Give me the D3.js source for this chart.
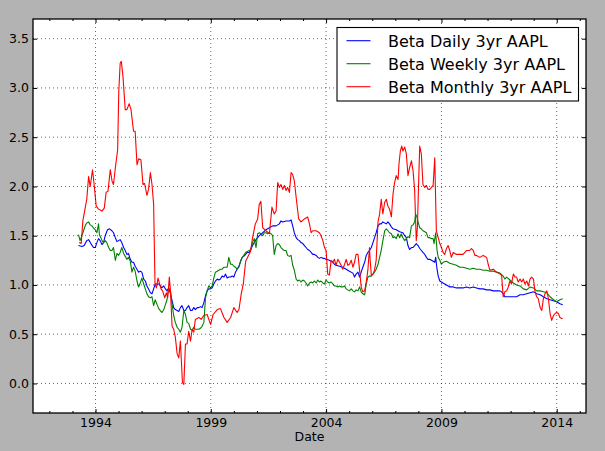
<!DOCTYPE html>
<html>
<head>
<meta charset="utf-8">
<title>Beta 3yr AAPL</title>
<script src="https://cdn.jsdelivr.net/npm/d3@7"></script>
<style>
  html, body { margin: 0; padding: 0; background: #b3b3b3; }
  svg { display: block; font-family: "DejaVu Sans", sans-serif; }
</style>
</head>
<body>
<svg id="chart" width="605" height="451"></svg>
<script>
////////////////////////////////////////////////////////////////////////
// Data (decimal year, beta)
////////////////////////////////////////////////////////////////////////
var dailyYears = [
  1993.26,1993.41,1993.51,1993.62,1993.70,1993.80,1993.91,1993.99,1994.06,1994.13,
  1994.20,1994.28,1994.35,1994.42,1994.52,1994.61,1994.71,1994.78,1994.86,1994.93,
  1995.00,1995.07,1995.14,1995.22,1995.29,1995.36,1995.43,1995.51,1995.58,1995.65,
  1995.72,1995.80,1995.87,1995.94,1996.01,1996.09,1996.16,1996.23,1996.30,1996.38,
  1996.45,1996.52,1996.59,1996.67,1996.74,1996.81,1996.88,1996.96,1997.03,1997.10,
  1997.17,1997.25,1997.32,1997.39,1997.46,1997.54,1997.61,1997.68,1997.75,1997.83,
  1997.90,1997.97,1998.04,1998.12,1998.19,1998.26,1998.33,1998.41,1998.48,1998.55,
  1998.62,1998.70,1998.77,1998.84,1998.91,1998.99,1999.06,1999.13,1999.20,1999.28,
  1999.35,1999.42,1999.49,1999.57,1999.64,1999.71,1999.78,1999.86,1999.93,2000.00,
  2000.07,2000.14,2000.22,2000.29,2000.36,2000.43,2000.51,2000.58,
  2000.67,2000.81,2000.96,2001.10,2001.25,2001.39,2001.54,2001.68,2001.83,2001.97,
  2002.04,2002.12,2002.26,2002.41,2002.48,2002.55,2002.62,2002.70,2002.77,2002.84,
  2002.91,2002.99,2003.06,2003.13,2003.20,2003.28,2003.35,2003.42,2003.49,2003.57,
  2003.64,2003.71,2003.78,2003.86,2003.93,2004.00,2004.14,2004.29,2004.36,2004.43,
  2004.58,2004.72,2004.87,2005.01,2005.16,2005.23,2005.30,2005.38,2005.45,2005.52,
  2005.59,2005.67,2005.74,2005.81,2005.88,2005.96,2006.03,2006.10,2006.17,2006.25,
  2006.32,2006.39,2006.46,2006.61,2006.68,2006.75,2006.83,2006.90,2007.04,2007.19,
  2007.33,2007.41,2007.48,2007.55,2007.62,2007.70,2007.77,2007.84,2007.91,2007.99,
  2008.06,2008.13,2008.20,2008.28,2008.35,2008.42,2008.49,2008.57,2008.64,2008.71,
  2008.75,2008.81,2008.86,2008.93,2009.00,2009.07,2009.22,2009.36,2009.51,2009.65,
  2009.80,2009.94,2010.09,2010.23,2010.38,2010.52,2010.67,2010.81,2010.96,2011.10,
  2011.25,2011.39,2011.54,2011.61,2011.68,2011.75,2011.83,2011.97,2012.12,2012.26,
  2012.41,2012.55,2012.70,2012.84,2012.99,2013.13,2013.28,2013.42,2013.57,2013.71,
  2013.86,2014.00,2014.14,2014.26];
var dailyBeta = [
  1.40,1.39,1.40,1.45,1.46,1.42,1.38,1.38,1.43,1.47,
  1.45,1.41,1.43,1.50,1.56,1.57,1.55,1.53,1.48,1.44,
  1.45,1.46,1.43,1.38,1.35,1.31,1.32,1.26,1.23,1.23,
  1.19,1.16,1.13,1.14,1.13,1.06,1.04,0.99,0.96,0.92,
  0.91,0.96,1.01,1.01,1.01,0.99,0.97,0.99,0.96,0.94,
  0.97,0.91,0.84,0.77,0.75,0.74,0.73,0.77,0.79,0.74,
  0.74,0.77,0.79,0.74,0.74,0.77,0.75,0.77,0.77,0.78,
  0.77,0.82,0.89,0.94,0.96,0.96,0.97,1.01,1.04,1.06,
  1.05,1.06,1.09,1.08,1.11,1.07,1.08,1.08,1.09,1.08,
  1.13,1.16,1.19,1.24,1.28,1.29,1.31,1.33,
  1.33,1.40,1.46,1.50,1.53,1.56,1.58,1.60,1.60,1.62,
  1.65,1.64,1.65,1.65,1.66,1.60,1.53,1.48,1.46,1.45,
  1.43,1.42,1.40,1.38,1.36,1.35,1.33,1.31,1.31,1.30,
  1.28,1.27,1.28,1.27,1.27,1.26,1.25,1.23,1.21,1.20,
  1.19,1.18,1.16,1.14,1.12,1.08,1.11,1.13,1.08,1.13,
  1.18,1.23,1.30,1.33,1.35,1.38,1.43,1.48,1.53,1.60,
  1.62,1.62,1.64,1.62,1.64,1.62,1.59,1.57,1.56,1.54,
  1.53,1.50,1.48,1.40,1.36,1.38,1.38,1.40,1.42,1.40,
  1.37,1.35,1.33,1.31,1.28,1.26,1.26,1.25,1.24,1.23,
  1.28,1.16,1.09,1.04,1.03,1.02,1.00,0.98,0.98,0.97,
  0.97,0.97,0.98,0.97,0.98,0.97,0.96,0.96,0.95,0.95,
  0.94,0.94,0.94,0.93,0.91,0.88,0.88,0.88,0.88,0.88,
  0.90,0.90,0.91,0.92,0.93,0.91,0.90,0.88,0.86,0.85,
  0.84,0.83,0.81,0.80];

var weeklyYears = [
  1993.26,1993.33,1993.41,1993.48,1993.55,1993.62,1993.70,1993.77,1993.84,1993.91,
  1993.99,1994.06,1994.13,1994.17,1994.23,1994.28,1994.35,1994.42,1994.49,1994.57,
  1994.64,1994.71,1994.78,1994.86,1994.93,1995.00,1995.07,1995.14,1995.22,1995.29,
  1995.36,1995.43,1995.51,1995.58,1995.65,1995.72,1995.80,1995.87,1995.94,1996.01,
  1996.09,1996.16,1996.23,1996.30,1996.38,1996.45,1996.52,1996.59,1996.67,1996.74,
  1996.81,1996.88,1996.96,1997.03,1997.10,1997.17,1997.25,1997.32,1997.39,1997.46,
  1997.54,1997.61,1997.68,1997.75,1997.83,1997.90,1997.97,1998.04,1998.12,1998.19,
  1998.26,1998.33,1998.41,1998.48,1998.55,1998.62,1998.70,1998.77,1998.84,1998.91,
  1998.99,1999.06,1999.13,1999.20,1999.28,1999.35,1999.42,1999.49,1999.57,1999.64,
  1999.71,1999.78,1999.86,1999.93,2000.00,2000.07,2000.14,2000.22,2000.29,2000.36,
  2000.43,2000.51,2000.58,
  2000.67,2000.74,2000.81,2000.88,2000.96,2001.03,2001.10,2001.17,2001.25,2001.32,
  2001.39,2001.46,2001.54,2001.61,2001.68,2001.75,2001.83,2001.90,2001.97,2002.04,
  2002.12,2002.19,2002.26,2002.33,2002.41,2002.48,2002.55,2002.62,2002.70,2002.77,
  2002.84,2002.91,2002.99,2003.06,2003.13,2003.20,2003.28,2003.35,2003.42,2003.49,
  2003.57,2003.64,2003.71,2003.78,2003.86,2003.93,2004.00,2004.07,2004.14,2004.22,
  2004.29,2004.36,2004.43,2004.51,2004.58,2004.65,2004.72,2004.80,2004.87,2004.94,
  2005.01,2005.09,2005.16,2005.23,2005.30,2005.38,2005.45,2005.52,2005.59,2005.67,
  2005.74,2005.81,2005.88,2005.96,2006.03,2006.10,2006.17,2006.25,2006.32,2006.39,
  2006.46,2006.54,2006.61,2006.68,2006.75,2006.83,2006.90,2006.97,2007.04,2007.12,
  2007.19,2007.26,2007.33,2007.41,2007.48,2007.55,2007.62,2007.70,2007.77,2007.84,
  2007.88,2007.94,2007.99,2008.06,2008.13,2008.20,2008.28,2008.35,2008.42,2008.49,
  2008.57,2008.64,2008.68,2008.75,2008.81,2008.86,2008.93,2009.00,2009.07,2009.22,
  2009.36,2009.51,2009.65,2009.80,2009.94,2010.09,2010.23,2010.38,2010.52,2010.67,
  2010.81,2010.96,2011.10,2011.25,2011.39,2011.54,2011.68,2011.75,2011.83,2011.97,
  2012.12,2012.26,2012.41,2012.55,2012.70,2012.84,2012.99,2013.13,2013.28,2013.42,
  2013.57,2013.71,2013.86,2014.00,2014.14,2014.26];
var weeklyBeta = [
  1.51,1.45,1.50,1.55,1.60,1.63,1.64,1.61,1.60,1.58,
  1.56,1.53,1.62,1.51,1.48,1.45,1.43,1.45,1.43,1.38,
  1.35,1.35,1.38,1.25,1.32,1.30,1.33,1.38,1.32,1.29,
  1.26,1.28,1.24,1.13,1.18,1.14,1.04,0.98,1.02,1.07,
  1.01,0.96,0.91,0.88,0.87,0.88,0.79,0.85,0.80,0.76,
  0.74,0.72,0.75,0.80,0.85,0.97,0.94,0.80,0.69,0.62,
  0.57,0.55,0.52,0.57,0.74,0.70,0.62,0.61,0.55,0.54,
  0.57,0.55,0.55,0.55,0.56,0.58,0.62,0.87,0.94,0.99,
  0.97,0.99,1.07,1.13,1.14,1.15,1.16,1.16,1.18,1.18,
  1.18,1.28,1.21,1.21,1.19,1.18,1.16,1.18,1.24,1.28,
  1.30,1.33,1.34,
  1.35,1.36,1.43,1.47,1.38,1.52,1.53,1.52,1.50,1.53,
  1.53,1.52,1.53,1.52,1.50,1.31,1.40,1.42,1.41,1.38,
  1.36,1.35,1.35,1.30,1.29,1.30,1.20,1.15,1.06,1.04,
  1.05,1.03,1.05,1.04,1.02,0.99,1.02,1.03,1.02,1.04,
  1.02,1.05,1.03,1.04,1.02,1.01,1.05,1.03,1.02,1.03,
  1.01,0.99,0.99,0.98,0.99,0.98,0.98,0.99,0.96,0.95,
  0.94,0.96,0.94,0.93,0.95,0.94,0.98,0.93,0.91,0.90,
  1.01,1.08,1.09,1.09,1.11,1.13,1.16,1.21,1.28,1.35,
  1.45,1.55,1.57,1.55,1.53,1.52,1.48,1.49,1.47,1.52,
  1.48,1.52,1.48,1.45,1.47,1.49,1.48,1.60,1.61,1.64,
  1.72,1.69,1.64,1.58,1.57,1.55,1.54,1.53,1.48,1.48,
  1.47,1.47,1.42,1.53,1.35,1.28,1.25,1.21,1.23,1.24,
  1.22,1.21,1.20,1.18,1.18,1.17,1.16,1.17,1.16,1.16,
  1.15,1.15,1.14,1.14,1.13,1.12,1.09,1.06,1.08,1.05,
  1.02,1.00,0.99,0.96,0.95,0.98,0.97,0.94,0.94,0.93,
  0.92,0.88,0.85,0.83,0.85,0.86];

var monthlyYears = [
  1993.29,1993.38,1993.45,1993.55,1993.62,1993.70,1993.77,1993.87,1993.94,1994.03,
  1994.13,1994.28,1994.38,1994.46,1994.54,1994.64,1994.72,1994.78,1994.86,1994.96,
  1995.01,1995.07,1995.12,1995.19,1995.29,1995.36,1995.46,1995.54,1995.65,1995.72,
  1995.80,1995.87,1995.97,1996.06,1996.13,1996.23,1996.30,1996.38,1996.45,1996.52,
  1996.58,1996.64,1996.71,1996.78,1996.84,1996.91,1997.00,1997.07,1997.13,1997.20,
  1997.25,1997.32,1997.39,1997.46,1997.54,1997.61,1997.68,1997.77,1997.83,1997.90,
  1997.97,1998.04,1998.12,1998.19,1998.26,1998.33,1998.48,1998.58,1998.70,1998.84,
  1998.99,1999.10,1999.28,1999.42,1999.57,1999.71,1999.86,2000.00,2000.14,2000.22,
  2000.32,2000.41,2000.51,2000.72,
  2000.81,2000.93,2001.03,2001.10,2001.17,2001.25,2001.39,2001.54,2001.65,2001.75,
  2001.83,2001.90,2001.97,2002.04,2002.12,2002.19,2002.26,2002.33,2002.41,2002.48,
  2002.55,2002.62,2002.70,2002.81,2002.91,2003.06,2003.20,2003.28,2003.35,2003.42,
  2003.57,2003.71,2003.78,2003.86,2003.93,2004.00,2004.07,2004.14,2004.22,2004.29,
  2004.36,2004.43,2004.51,2004.58,2004.65,2004.72,2004.80,2004.87,2004.94,2005.01,
  2005.09,2005.16,2005.23,2005.30,2005.38,2005.45,2005.52,2005.59,2005.67,2005.74,
  2005.81,2005.88,2005.91,2005.96,2006.03,2006.10,2006.17,2006.25,2006.32,2006.39,
  2006.46,2006.54,2006.61,2006.68,2006.75,2006.83,2006.90,2006.97,2007.04,2007.12,
  2007.16,2007.22,2007.28,2007.33,2007.41,2007.48,2007.55,2007.62,2007.70,2007.77,
  2007.84,2007.91,2007.96,2008.01,2008.06,2008.13,2008.20,2008.28,2008.35,2008.42,
  2008.49,2008.57,2008.64,2008.71,2008.75,2008.78,2008.86,2008.93,2009.00,2009.07,
  2009.14,2009.22,2009.29,2009.36,2009.43,2009.51,2009.65,2009.80,2009.94,2010.09,
  2010.23,2010.30,2010.38,2010.45,2010.52,2010.67,2010.81,2010.96,2011.03,2011.10,
  2011.25,2011.39,2011.54,2011.61,2011.68,2011.75,2011.83,2011.90,2011.97,2012.04,
  2012.12,2012.19,2012.26,2012.33,2012.41,2012.48,2012.55,2012.62,2012.70,2012.77,
  2012.84,2012.91,2012.99,2013.06,2013.13,2013.20,2013.28,2013.35,2013.42,2013.49,
  2013.57,2013.64,2013.71,2013.78,2013.86,2013.93,2014.00,2014.07,2014.14,2014.22,
  2014.26];
var monthlyBeta = [
  1.43,1.42,1.65,1.78,1.87,2.10,2.00,2.17,2.02,1.80,
  1.77,1.75,1.78,1.94,1.95,2.17,2.05,2.02,2.19,2.37,
  2.97,3.25,3.27,3.12,2.78,2.78,2.84,2.78,2.56,2.56,
  2.22,2.28,2.27,2.02,2.03,1.91,1.97,2.14,2.02,1.82,
  1.01,0.97,1.07,1.01,0.96,0.94,0.87,0.92,0.87,1.08,
  0.94,0.58,0.55,0.47,0.30,0.26,0.43,0.01,-0.01,0.40,
  0.40,0.53,0.43,0.55,0.52,0.65,0.67,0.65,0.69,0.70,
  0.60,0.70,0.75,0.76,0.67,0.62,0.67,0.77,0.72,0.75,
  0.91,1.01,1.24,1.34,
  1.48,1.62,1.67,1.82,1.85,1.58,1.55,1.52,1.79,1.72,
  1.75,2.04,1.99,2.02,1.97,2.01,1.96,1.99,1.94,2.14,
  2.12,2.06,1.89,1.67,1.64,1.67,1.69,1.62,1.53,1.55,
  1.55,1.53,1.50,1.45,1.38,1.35,1.11,1.10,1.25,1.23,
  1.26,1.20,1.26,1.23,1.20,1.16,1.21,1.26,1.20,1.21,
  1.25,1.18,1.23,1.31,1.31,1.15,0.98,0.93,0.94,1.03,
  1.15,1.38,1.25,1.10,1.11,1.15,1.25,1.64,1.72,1.87,
  1.72,1.84,1.87,1.80,1.77,1.69,1.92,2.04,2.11,2.07,
  2.23,2.36,2.41,2.36,2.40,2.33,2.11,2.19,2.26,2.16,
  1.96,1.45,1.58,2.02,2.41,2.33,2.02,1.99,2.01,1.97,
  1.97,1.99,2.01,2.29,1.85,1.55,1.48,1.42,1.38,1.33,
  1.31,1.37,1.40,1.35,1.28,1.33,1.31,1.31,1.31,1.35,
  1.35,1.37,1.35,1.30,1.30,1.28,1.30,1.28,1.21,1.15,
  1.16,1.13,1.11,1.10,0.88,0.93,0.94,0.98,1.04,1.01,
  1.11,1.08,1.08,1.03,1.06,1.03,1.06,1.01,1.04,0.99,
  1.06,1.08,1.06,0.93,0.88,0.86,0.77,0.74,0.86,0.91,
  0.94,0.86,0.71,0.64,0.69,0.71,0.72,0.71,0.67,0.66,
  0.66];

var seriesNames  = ['Beta Daily 3yr AAPL', 'Beta Weekly 3yr AAPL', 'Beta Monthly 3yr AAPL'];
var seriesColors = ['#0000ff', '#008000', '#ff0000'];

var xMajorYears = [1994, 1999, 2004, 2009, 2014];
var xMinorYears = [1992, 1993, 1995, 1996, 1997, 1998, 2000, 2001, 2002, 2003,
                   2005, 2006, 2007, 2008, 2010, 2011, 2012, 2013, 2015];
var xRange = [1991.29, 2015.27];
var yTickValues = [0.0, 0.5, 1.0, 1.5, 2.0, 2.5, 3.0, 3.5];
var yRange = [-0.3, 3.7];
var xLabel = 'Date';


////////////////////////////////////////////////////////////////////////
//
// Turn a decimal year (1994.5) into a Date
//
////////////////////////////////////////////////////////////////////////
function yearToDate(t)
  {
  var yr = Math.floor(t);
  var start = new Date(yr, 0, 1).getTime();
  var end = new Date(yr + 1, 0, 1).getTime();
  return new Date(start + (t - yr) * (end - start));
  }


////////////////////////////////////////////////////////////////////////
//
// Build the chart
//
////////////////////////////////////////////////////////////////////////
function init()
  {
  var margin = {top: 19, right: 19, bottom: 38, left: 33};
  var width = 605 - margin.left - margin.right;
  var height = 451 - margin.top - margin.bottom;

  var svg = d3.select('#chart');
  var g = svg.append('g').attr('transform', 'translate(' + margin.left + ',' + margin.top + ')');

  var x = d3.scaleTime().domain(xRange.map(yearToDate)).range([0, width]);
  var y = d3.scaleLinear().domain(yRange).range([height, 0]);

  var majorDates = xMajorYears.map(function(yr) { return new Date(yr, 0, 1); });
  var minorDates = xMinorYears.map(function(yr) { return new Date(yr, 0, 1); });

  //plot background
  g.append('rect')
    .attr('width', width)
    .attr('height', height)
    .attr('fill', '#ffffff');

  //series lines, drawn in legend order so monthly sits on top
  var series = [
    {years: dailyYears,   values: dailyBeta},
    {years: weeklyYears,  values: weeklyBeta},
    {years: monthlyYears, values: monthlyBeta}
  ];

  var line = d3.line()
    .x(function(d) { return x(yearToDate(d[0])); })
    .y(function(d) { return y(d[1]); });

  var plot = g.append('g');

  series.forEach(function(s, i)
    {
    var pts = s.years.map(function(yr, j) { return [yr, s.values[j]]; });
    plot.append('path')
      .datum(pts)
      .attr('d', line)
      .attr('fill', 'none')
      .attr('stroke', seriesColors[i])
      .attr('stroke-width', 1.1)
      .attr('stroke-linejoin', 'round');
    });

  //dotted grid (classic style puts it above the lines)
  var grid = g.append('g')
    .attr('stroke', '#000')
    .attr('stroke-width', 0.6)
    .attr('stroke-dasharray', '1,3');

  grid.selectAll('.vgrid')
    .data(majorDates)
    .enter()
    .append('line')
    .attr('x1', function(d) { return x(d); })
    .attr('x2', function(d) { return x(d); })
    .attr('y1', 0)
    .attr('y2', height);

  grid.selectAll('.hgrid')
    .data(yTickValues)
    .enter()
    .append('line')
    .attr('x1', 0)
    .attr('x2', width)
    .attr('y1', function(d) { return y(d); })
    .attr('y2', function(d) { return y(d); });

  //ticks pointing inward on every side
  var fontSize = '12.5px';

  g.append('g')
    .attr('transform', 'translate(0,' + height + ')')
    .call(d3.axisBottom(x).tickValues(majorDates).tickSize(-4).tickPadding(5.5)
      .tickFormat(d3.timeFormat('%Y')));

  g.append('g')
    .attr('transform', 'translate(0,' + height + ')')
    .call(d3.axisBottom(x).tickValues(minorDates).tickSize(-2).tickFormat(''));

  g.append('g')
    .call(d3.axisTop(x).tickValues(majorDates).tickSize(-4).tickFormat(''));

  g.append('g')
    .call(d3.axisTop(x).tickValues(minorDates).tickSize(-2).tickFormat(''));

  g.append('g')
    .call(d3.axisLeft(y).tickValues(yTickValues).tickSize(-4).tickPadding(4)
      .tickFormat(d3.format('.1f')));

  g.append('g')
    .attr('transform', 'translate(' + width + ',0)')
    .call(d3.axisRight(y).tickValues(yTickValues).tickSize(-4).tickFormat(''));

  g.selectAll('.domain').remove();
  g.selectAll('.tick line').attr('stroke', '#000').attr('stroke-width', 1);
  g.selectAll('.tick text')
    .attr('fill', '#000')
    .style('font-family', '"DejaVu Sans", sans-serif')
    .style('font-size', fontSize);

  //frame
  g.append('rect')
    .attr('width', width)
    .attr('height', height)
    .attr('fill', 'none')
    .attr('stroke', '#000')
    .attr('stroke-width', 1.3);

  //x label
  svg.append('text')
    .attr('x', margin.left + width / 2)
    .attr('y', 441)
    .attr('text-anchor', 'middle')
    .style('font-size', fontSize)
    .text(xLabel);

  drawLegend(svg);

  return;
  }


////////////////////////////////////////////////////////////////////////
//
// Legend box in the upper right
//
////////////////////////////////////////////////////////////////////////
function drawLegend(svg)
  {
  var boxX = 337, boxY = 27.5, boxW = 241.5, boxH = 73.5;
  var rowY = 40.7, rowStep = 23;

  var legend = svg.append('g');

  legend.append('rect')
    .attr('x', boxX)
    .attr('y', boxY)
    .attr('width', boxW)
    .attr('height', boxH)
    .attr('fill', '#ffffff')
    .attr('stroke', '#000')
    .attr('stroke-width', 1.1);

  var rows = legend.selectAll('.row')
    .data(seriesNames)
    .enter()
    .append('g')
    .attr('transform', function(d, i) { return 'translate(0,' + (rowY + i * rowStep) + ')'; });

  rows.append('line')
    .attr('x1', 346.5)
    .attr('x2', 370.5)
    .attr('stroke', function(d, i) { return seriesColors[i]; })
    .attr('stroke-width', 1.1);

  rows.append('text')
    .attr('x', 388)
    .attr('y', 6)
    .style('font-size', '16px')
    .text(function(d) { return d; });

  return;
  }

init();
</script>
</body>
</html>
